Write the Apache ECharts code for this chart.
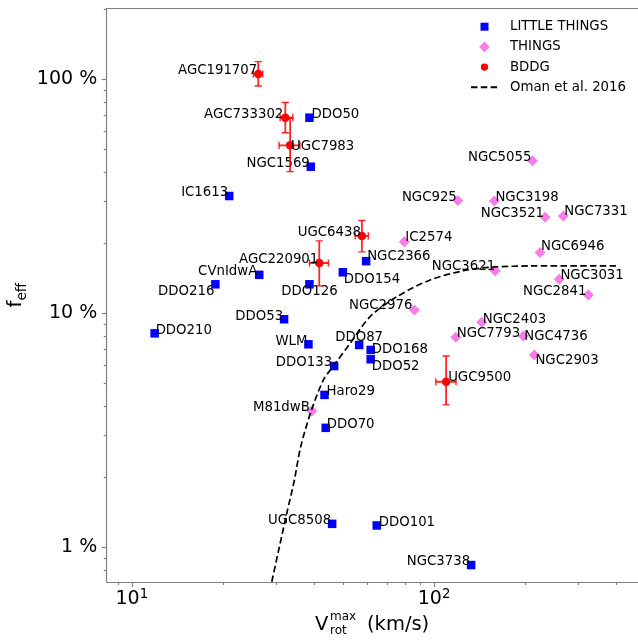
<!DOCTYPE html>
<html><head><meta charset="utf-8">
<script src="https://cdn.jsdelivr.net/npm/echarts@6/dist/echarts.min.js"></script>
<style>html,body{margin:0;padding:0;background:#fff}#c{width:638px;height:640px}</style>
</head><body><div id="c"></div>
<script>
// ---------------- data ----------------
const littleNames = ['DDO50','NGC1569','IC1613','CVnIdwA','DDO216','DDO126','DDO154','NGC2366','DDO53','DDO210','WLM','DDO87','DDO168','DDO52','DDO133','Haro29','DDO70','UGC8508','DDO101','NGC3738'];
const littleV = [38.7, 39.1, 21.0, 26.4, 18.9, 38.7, 49.9, 59.6, 31.9, 11.9, 38.4, 56.5, 61.7, 61.7, 46.7, 43.4, 43.8, 46.0, 64.6, 132.6];
const littleF = [68.5, 42.3, 31.7, 14.6, 13.3, 13.3, 14.97, 16.7, 9.43, 8.21, 7.37, 7.32, 6.97, 6.36, 5.95, 4.48, 3.24, 1.26, 1.24, 0.84];

const thingsNames = ['M81dwB','NGC5055','NGC925','NGC3198','NGC3521','NGC7331','IC2574','NGC6946','NGC3621','NGC3031','NGC2841','NGC2976','NGC2403','NGC7793','NGC4736','NGC2903'];
const thingsV = [39.4, 211.5, 119.8, 158.3, 232.9, 267.7, 79.7, 224.2, 159.2, 259.7, 323.9, 86.1, 143.8, 118.0, 197.4, 214.7];
const thingsF = [3.82, 44.9, 30.3, 30.2, 25.7, 26.05, 20.2, 18.2, 15.2, 13.97, 11.97, 10.33, 9.15, 7.9, 8.0, 6.63];

const bddgNames = ['AGC191707','AGC733302','UGC7983','AGC220901','UGC6438','UGC9500'];
const bddgV = [26.2, 32.2, 33.4, 41.7, 57.7, 109.6];
const bddgF = [105.3, 68.5, 52.2, 16.4, 21.4, 5.10];
const bddgVLow = [25.25, 30.95, 30.7, 38.7, 54.8, 101.3];
const bddgVHigh = [27.1, 34.1, 36.0, 44.7, 60.6, 118.2];
const bddgFLow = [93.6, 59.1, 40.3, 13.1, 18.3, 4.06];
const bddgFHigh = [118.9, 79.6, 68.1, 20.4, 24.9, 6.57];

const omanV = [29.05, 30.78, 32.56, 34.5, 36.2, 39.2, 43.05, 46.45, 52.74, 61.42, 75.27, 97.0, 125.0, 153.2, 207.8, 402.2];
const omanF = [0.713, 1.006, 1.397, 1.94, 2.69, 3.82, 5.19, 5.95, 7.44, 9.67, 11.77, 13.88, 15.2, 15.73, 15.93, 15.93];

const yMajorTicks = [1, 10, 100];
const yMinorTicks = [0.8, 0.9, 2, 3, 4, 5, 6, 7, 8, 9, 20, 30, 40, 50, 60, 70, 80, 90, 200];
const xMajorTicks = [10, 100];
const xMinorTicks = [9, 20, 30, 40, 50, 60, 70, 80, 90, 200, 300, 400];

// ---------------- label placement (style) ----------------
const labelPlacement = {
  AGC191707:['right',-1,-4], AGC733302:['right',-2,-4], DDO50:['left',2,-4], UGC7983:['left',1,0],
  NGC1569:['right',-1,-4], IC1613:['right',-1,-4], UGC6438:['right',-1,-4], NGC2366:['left',1,-5],
  AGC220901:['right',-1,-4], CVnIdwA:['right',-2,-4], DDO154:['left',1,6], DDO216:['right',-1,6],
  DDO126:['center',0,6], DDO53:['right',-1,-4], DDO210:['left',1,-4], WLM:['right',-1,-4],
  DDO87:['center',0,-8], DDO168:['left',1,-1], DDO52:['left',1,6], DDO133:['right',-2,-4],
  Haro29:['left',2,-4], M81dwB:['right',-2,-4], DDO70:['left',1,-4], UGC8508:['right',-1,-4],
  DDO101:['left',2,-4], NGC3738:['right',-1,-4], NGC5055:['right',-1,-4], NGC925:['right',-1,-4],
  NGC3198:['left',1,-4], NGC3521:['right',-1,-5], NGC7331:['left',1,-5], IC2574:['left',1,-5],
  NGC6946:['left',1,-7], NGC3621:['right',0,-5], NGC3031:['left',1,-5], NGC2841:['right',-2,-4],
  NGC2976:['right',-2,-5], NGC2403:['left',1,-4], NGC7793:['left',1,-5], NGC4736:['left',1,0],
  NGC2903:['left',1,5], UGC9500:['left',2,-5]
};

const FONT = '"DejaVu Sans", sans-serif';
const AXIS_COLOR = '#808080';
const X_MIN = 8.26, X_MAX = 481, Y_MIN = 0.711, Y_MAX = 201;

function points(names, xs, ys) {
  return names.map((n, i) => {
    const p = labelPlacement[n] || ['left', 1, -4];
    return {
      name: n, value: [xs[i], ys[i]],
      label: { align: p[0], offset: [p[1], p[2] + 0.8] }
    };
  });
}
const labelBase = {
  show: true, formatter: '{b}', position: 'inside', verticalAlign: 'middle',
  color: '#000', fontSize: 13.3, fontFamily: FONT
};

const errData = bddgNames.map((n, i) => [bddgV[i], bddgF[i], bddgVLow[i], bddgVHigh[i], bddgFLow[i], bddgFHigh[i]]);
const omanData = omanV.map((v, i) => [v, omanF[i]]);

const ECOLOR = 'rgba(255,0,0,0.85)';
function renderErr(params, api) {
  const x = api.value(0), y = api.value(1);
  const c = api.coord([x, y]);
  const xl = api.coord([api.value(2), y]), xh = api.coord([api.value(3), y]);
  const yl = api.coord([x, api.value(4)]), yh = api.coord([x, api.value(5)]);
  const cap = 3.6;
  const st = { stroke: ECOLOR, lineWidth: 1.8 };
  const cs = { stroke: ECOLOR, lineWidth: 1.4 };
  const L = (x1, y1, x2, y2, s) => ({ type: 'line', shape: { x1, y1, x2, y2 }, style: s });
  return { type: 'group', children: [
    L(c[0], yl[1], c[0], yh[1], st),
    L(xl[0], c[1], xh[0], c[1], st),
    L(c[0] - cap, yl[1], c[0] + cap, yl[1], cs),
    L(c[0] - cap, yh[1], c[0] + cap, yh[1], cs),
    L(xl[0], c[1] - cap, xl[0], c[1] + cap, cs),
    L(xh[0], c[1] - cap, xh[0], c[1] + cap, cs)
  ]};
}

const axisLineStyle = { color: AXIS_COLOR, width: 1.2 };

const option = {
  animation: false,
  backgroundColor: '#fff',
  grid: { left: 106.7, right: -2.3, top: 8.3, bottom: 58, containLabel: false, outerBoundsMode: 'none' },
  legend: {
    orient: 'vertical', left: 470, top: 19.7, padding: 0,
    itemWidth: 27, itemHeight: 12, itemGap: 6.2,
    textStyle: { fontFamily: FONT, fontSize: 13.3, color: '#000', lineHeight: 14, padding: [0, 0, 0, 7] },
    data: [
      { name: 'LITTLE THINGS', icon: 'path://M0,0L0,0M2,2L10,2L10,10L2,10ZM12,12L12,12' },
      { name: 'THINGS', icon: 'path://M0,0L0,0M6,0.6L11.4,6L6,11.4L0.6,6ZM12,12L12,12' },
      { name: 'BDDG', icon: 'path://M0,0L0,0M2.3,6A3.7,3.7,0,1,1,9.7,6A3.7,3.7,0,1,1,2.3,6ZM12,12L12,12' },
      { name: 'Oman et al. 2016', itemStyle: { opacity: 0 } }
    ]
  },
  xAxis: [
    {
      type: 'log', logBase: 10, min: X_MIN, max: X_MAX, position: 'bottom',
      axisLine: { show: true, lineStyle: axisLineStyle },
      axisTick: { show: true, length: 5, customValues: xMajorTicks, lineStyle: axisLineStyle },
      axisLabel: {
        customValues: xMajorTicks, margin: 6, color: '#000',
        formatter: v => '{b|10}{s|' + Math.round(Math.log10(v)) + '}',
        rich: {
          b: { fontSize: 19, fontFamily: FONT, color: '#000', padding: [2, 0, 0, 0], verticalAlign: 'top' },
          s: { fontSize: 13.3, fontFamily: FONT, color: '#000', verticalAlign: 'top' }
        }
      },
      splitLine: { show: false }, minorTick: { show: false }
    },
    {
      type: 'log', logBase: 10, min: X_MIN, max: X_MAX, position: 'bottom',
      axisLine: { show: false },
      axisTick: { show: true, length: 3, customValues: xMinorTicks, lineStyle: axisLineStyle },
      axisLabel: { show: false }, splitLine: { show: false }
    },
    {
      type: 'value', min: 0, max: 1, position: 'top',
      axisLine: { show: true, lineStyle: axisLineStyle },
      axisTick: { show: false }, axisLabel: { show: false }, splitLine: { show: false }
    }
  ],
  yAxis: [
    {
      type: 'log', logBase: 10, min: Y_MIN, max: Y_MAX, position: 'left',
      name: '{f|f}{s|eff}', nameLocation: 'middle', nameRotate: 90, nameGap: 77, nameMoveOverlap: false,
      nameTextStyle: {
        color: '#000', fontFamily: FONT,
        rich: {
          f: { fontSize: 19.5, fontFamily: FONT, color: '#000', padding: [0, 0, 4, 0], verticalAlign: 'top' },
          s: { fontSize: 13.6, fontFamily: FONT, color: '#000', verticalAlign: 'bottom' }
        }
      },
      axisLine: { show: true, lineStyle: axisLineStyle },
      axisTick: { show: true, length: 5, customValues: yMajorTicks, lineStyle: axisLineStyle },
      axisLabel: {
        customValues: yMajorTicks, margin: 9.5, color: '#000', fontSize: 19, fontFamily: FONT,
        padding: [4, 0, 0, 0],
        formatter: v => Math.round(v) + ' %'
      },
      splitLine: { show: false }
    },
    {
      type: 'log', logBase: 10, min: Y_MIN, max: Y_MAX, position: 'left',
      axisLine: { show: false },
      axisTick: { show: true, length: 3, customValues: yMinorTicks, lineStyle: axisLineStyle },
      axisLabel: { show: false }, splitLine: { show: false }
    }
  ],
  graphic: [
    { type: 'text', x: 315, y: 625, style: { text: 'V', font: '19.5px "DejaVu Sans"', fill: '#000', align: 'left', verticalAlign: 'middle' } },
    { type: 'text', x: 330, y: 617, style: { text: 'max', font: '12px "DejaVu Sans"', fill: '#000', align: 'left', verticalAlign: 'middle' } },
    { type: 'text', x: 330, y: 631, style: { text: 'rot', font: '12px "DejaVu Sans"', fill: '#000', align: 'left', verticalAlign: 'middle' } },
    { type: 'text', x: 367, y: 625, style: { text: '(km/s)', font: '19.5px "DejaVu Sans"', fill: '#000', align: 'left', verticalAlign: 'middle' } }
  ],
  series: [
    {
      name: 'LITTLE THINGS', type: 'scatter', xAxisIndex: 0, yAxisIndex: 0,
      symbol: 'rect', symbolSize: 8.5, itemStyle: { color: '#0000ff', opacity: 1 },
      label: labelBase, data: points(littleNames, littleV, littleF), z: 3
    },
    {
      name: 'THINGS', type: 'scatter', xAxisIndex: 0, yAxisIndex: 0,
      symbol: 'diamond', symbolSize: 11, itemStyle: { color: '#f77ee6', opacity: 1 },
      label: labelBase, data: points(thingsNames, thingsV, thingsF), z: 3
    },
    {
      name: 'BDDG errors', type: 'custom', xAxisIndex: 0, yAxisIndex: 0,
      renderItem: renderErr, data: errData, encode: { x: 0, y: 1 }, z: 4, clip: true
    },
    {
      name: 'BDDG', type: 'scatter', xAxisIndex: 0, yAxisIndex: 0,
      symbol: 'circle', symbolSize: 8.5, itemStyle: { color: '#ff0000', opacity: 1 },
      label: labelBase, data: points(bddgNames, bddgV, bddgF), z: 5
    },
    {
      name: 'Oman et al. 2016', type: 'line', xAxisIndex: 0, yAxisIndex: 0,
      data: omanData, symbol: 'none', smooth: 0.3,
      lineStyle: { color: '#000', width: 1.7, type: [6.5, 3.3] },
      itemStyle: { color: '#000' }, z: 6, clip: true
    }
  ]
};
const chart = echarts.init(document.getElementById('c'), null, { renderer: 'canvas' });
chart.setOption(option);
</script>
</body></html>
